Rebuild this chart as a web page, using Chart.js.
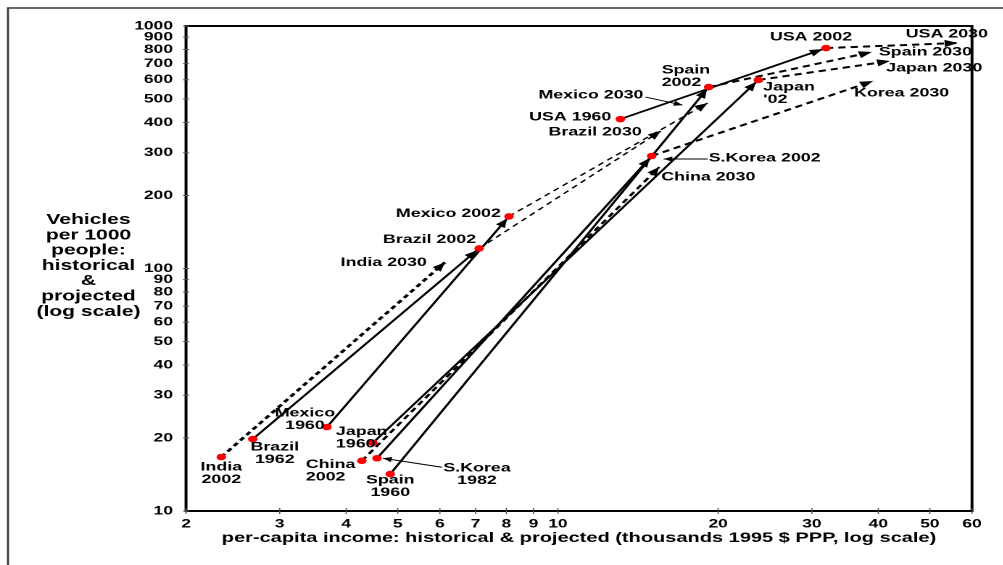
<!DOCTYPE html>
<html>
<head>
<meta charset="utf-8">
<script src="https://cdn.jsdelivr.net/npm/chart.js@4.4.0/dist/chart.umd.min.js"></script>
<style>
  html, body { margin: 0; padding: 0; background: #fff; overflow: hidden; }
  #container { position: relative; width: 1003px; height: 565px; }
  #chartcanvas { position: absolute; left: 0; top: 0; transform-origin: 0 0; }
</style>
</head>
<body>
<div id="container"></div>
<script>
// chart is laid out narrow and then stretched sideways
var STRETCH = 1.45;
var W = Math.ceil(1003 / STRETCH), H = 565;
var FONT = '"Liberation Sans", Arial, Helvetica, sans-serif';

var incomeTicks = [2, 3, 4, 5, 6, 7, 8, 9, 10, 20, 30, 40, 50, 60];
var vehicleTicks = [10, 20, 30, 40, 50, 60, 70, 80, 90, 100, 200, 300, 400, 500, 600, 700, 800, 900, 1000];

// observed country-years: income (thousands 1995 $ PPP), vehicles per 1000 people
var dotNames = ['India 2002', 'Brazil 1962', 'Mexico 1960', 'Japan 1960', 'China 2002',
  'S.Korea 1982', 'Spain 1960', 'Brazil 2002', 'Mexico 2002', 'USA 1960',
  'S.Korea 2002', 'Spain 2002', "Japan '02", 'USA 2002'];
var dotIncome = [2.33, 2.67, 3.68, 4.49, 4.28, 4.57, 4.84, 7.11, 8.09, 13.1, 15.0, 19.2, 23.8, 31.9];
var dotVehicles = [16.7, 19.8, 22.2, 19.1, 16.1, 16.5, 14.2, 121, 164, 413, 291, 560, 599, 811];

// historical paths
var histFrom = ['Brazil 1962', 'Mexico 1960', 'Japan 1960', 'Spain 1960', 'S.Korea 1982', 'USA 1960'];
var histTo = ['Brazil 2002', 'Mexico 2002', "Japan '02", 'Spain 2002', 'S.Korea 2002', 'USA 2002'];

// projections to 2030
var projFrom = ['India 2002', 'China 2002', 'Brazil 2002', 'Mexico 2002', 'S.Korea 2002', "Japan '02", 'Spain 2002', 'USA 2002'];
var projNames = ['India 2030', 'China 2030', 'Brazil 2030', 'Mexico 2030', 'Korea 2030', 'Japan 2030', 'Spain 2030', 'USA 2030'];
var projIncome = [6.13, 15.5, 15.6, 19.1, 39.1, 42.1, 38.9, 56.4];
var projVehicles = [106, 262, 369, 481, 593, 717, 781, 851];

var yTitle = ['Vehicles', 'per 1000', 'people:', 'historical', '&', 'projected', '(log scale)'];
var xTitle = 'per-capita income: historical & projected (thousands 1995 $ PPP, log scale)';

// lookup of every named position
var where = {};
dotNames.forEach(function (n, i) { where[n] = { x: dotIncome[i], y: dotVehicles[i] }; });
projNames.forEach(function (n, i) { where[n] = { x: projIncome[i], y: projVehicles[i] }; });

// dash styles for projection lines
var projStyle = {
  'India 2030': { w: 2.4, dash: [4, 3] },
  'Brazil 2030': { w: 1.3, dash: [4.5, 3.5] },
  'Mexico 2030': { w: 1.3, dash: [4.5, 3.5] }
};

// label placement (offsets in screen px from the named point)
var labelSpecs = [
  { at: 'India 2002', lines: ['India', '2002'], dx: 0, dy: 10, align: 'center' },
  { at: 'Brazil 1962', lines: ['Brazil', '1962'], dx: 22, dy: 8, align: 'center' },
  { at: 'Mexico 1960', lines: ['Mexico', '1960'], dx: -22, dy: -14, align: 'center' },
  { at: 'Japan 1960', lines: ['Japan', '1960'], dx: -37, dy: -11, align: 'left' },
  { at: 'China 2002', lines: ['China', '2002'], dx: -56, dy: 4, align: 'left' },
  { at: 'S.Korea 1982', lines: ['S.Korea', '1982'], dx: 100, dy: 10, align: 'center' },
  { at: 'Spain 1960', lines: ['Spain', '1960'], dx: 0, dy: 6, align: 'center' },
  { at: 'Brazil 2002', lines: ['Brazil 2002'], dx: -3, dy: -9, align: 'right' },
  { at: 'Mexico 2002', lines: ['Mexico 2002'], dx: -8, dy: -3, align: 'right' },
  { at: 'India 2030', lines: ['India 2030'], dx: -18, dy: 0, align: 'right' },
  { at: 'Mexico 2030', lines: ['Mexico 2030'], dx: -64, dy: -8, align: 'right' },
  { at: 'USA 1960', lines: ['USA 1960'], dx: -9, dy: -2, align: 'right' },
  { at: 'Brazil 2030', lines: ['Brazil 2030'], dx: -19, dy: 1, align: 'right' },
  { at: 'Spain 2002', lines: ['Spain', '2002'], dx: -47, dy: -17, align: 'left' },
  { at: "Japan '02", lines: ['Japan', "'02"], dx: 5, dy: 7, align: 'left' },
  { at: 'USA 2002', lines: ['USA 2002'], dx: -15, dy: -11, align: 'center' },
  { at: 'USA 2030', lines: ['USA 2030'], dx: -52, dy: -9, align: 'left' },
  { at: 'Spain 2030', lines: ['Spain 2030'], dx: 7, dy: 0, align: 'left' },
  { at: 'Japan 2030', lines: ['Japan 2030'], dx: -4, dy: 7, align: 'left' },
  { at: 'Korea 2030', lines: ['Korea 2030'], dx: -19, dy: 12, align: 'left' },
  { at: 'S.Korea 2002', lines: ['S.Korea 2002'], dx: 57, dy: 2, align: 'left' },
  { at: 'China 2030', lines: ['China 2030'], dx: 2, dy: 10, align: 'left' }
];

// pointer lines from a label to its point
var leaderSpecs = [
  { at: 'Mexico 2030', x0: -62, y0: -6, x1: -25, y1: 2 },
  { at: 'S.Korea 2002', x0: 56, y0: 3, x1: 12, y1: 3 },
  { at: 'S.Korea 1982', x0: 65, y0: 9, x1: 6, y1: 0 }
];

function arrowHead(c, x0, y0, x1, y1, len, half, back) {
  var a = Math.atan2(y1 - y0, x1 - x0);
  var ca = Math.cos(a), sa = Math.sin(a);
  var tx = x1 - back * ca, ty = y1 - back * sa;
  c.beginPath();
  c.moveTo(tx, ty);
  c.lineTo(tx - len * ca + half * sa, ty - len * sa - half * ca);
  c.lineTo(tx - len * ca - half * sa, ty - len * sa + half * ca);
  c.closePath();
  c.fill();
}

var datasets = [];
datasets.push({
  data: dotNames.map(function (n, i) { return { x: dotIncome[i], y: dotVehicles[i] }; }),
  pointRadius: 3.3,
  pointBackgroundColor: '#ff0000',
  pointBorderWidth: 0,
  showLine: false
});
histFrom.forEach(function (f, i) {
  datasets.push({
    data: [where[f], where[histTo[i]]],
    showLine: true,
    borderColor: '#000',
    borderWidth: 1.7,
    pointRadius: 0,
    arrow: true,
    arrowBack: 2.5
  });
});
projFrom.forEach(function (f, i) {
  var st = projStyle[projNames[i]] || { w: 2, dash: [5, 3.5] };
  datasets.push({
    data: [where[f], where[projNames[i]]],
    showLine: true,
    borderColor: '#000',
    borderWidth: st.w,
    borderDash: st.dash,
    pointRadius: 0,
    arrow: true,
    arrowBack: 0
  });
});

var decor = {
  id: 'decor',
  beforeDraw: function (chart) {
    var c = chart.ctx;
    c.save();
    c.fillStyle = '#fff';
    c.fillRect(0, 0, chart.width, chart.height);
    c.strokeStyle = '#3a3a3a';
    c.lineWidth = 1.4;
    c.beginPath();
    c.moveTo(5.5, chart.height + 5);
    c.lineTo(5.5, 8);
    c.lineTo(chart.width + 5, 8);
    c.stroke();
    c.restore();
  },
  afterDatasetDraw: function (chart, args) {
    var ds = chart.data.datasets[args.index];
    if (!ds.arrow) return;
    var pts = args.meta.data;
    var a = pts[0], b = pts[pts.length - 1];
    chart.ctx.save();
    chart.ctx.fillStyle = '#000';
    arrowHead(chart.ctx, a.x, a.y, b.x, b.y, 9, 3.6, ds.arrowBack);
    chart.ctx.restore();
  },
  afterDraw: function (chart) {
    var c = chart.ctx, area = chart.chartArea;
    var xs = chart.scales.x, ys = chart.scales.y;
    function px(name) {
      return { x: xs.getPixelForValue(where[name].x), y: ys.getPixelForValue(where[name].y) };
    }
    c.save();
    // plot box
    c.strokeStyle = '#000';
    c.lineWidth = 2;
    c.strokeRect(area.left, area.top, area.right - area.left, area.bottom - area.top);
    // tick marks across the axes
    c.strokeStyle = '#555';
    c.lineWidth = 0.8;
    c.beginPath();
    incomeTicks.forEach(function (v) {
      var x = xs.getPixelForValue(v);
      c.moveTo(x, area.bottom - 3); c.lineTo(x, area.bottom + 3);
    });
    c.stroke();
    c.lineWidth = 1;
    c.beginPath();
    vehicleTicks.forEach(function (v) {
      var y = ys.getPixelForValue(v);
      c.moveTo(area.left - 2.1, y); c.lineTo(area.left + 2.1, y);
    });
    c.stroke();

    // leaders
    c.strokeStyle = '#000';
    c.fillStyle = '#000';
    c.lineWidth = 1;
    leaderSpecs.forEach(function (s) {
      var p = px(s.at);
      var x0 = p.x + s.x0 / STRETCH, y0 = p.y + s.y0;
      var x1 = p.x + s.x1 / STRETCH, y1 = p.y + s.y1;
      c.beginPath(); c.moveTo(x0, y0); c.lineTo(x1, y1); c.stroke();
      arrowHead(c, x0, y0, x1, y1, 6, 2.6, 0);
    });

    // point labels
    c.font = 'bold 12.3px ' + FONT;
    c.textBaseline = 'middle';
    labelSpecs.forEach(function (s) {
      var p = px(s.at);
      c.textAlign = s.align;
      s.lines.forEach(function (t, k) {
        c.fillText(t, p.x + s.dx / STRETCH, p.y + s.dy + k * 12.5);
      });
    });

    // vertical axis title, set horizontally beside the axis
    c.font = 'bold 14.5px ' + FONT;
    c.textAlign = 'center';
    yTitle.forEach(function (t, k) {
      c.fillText(t, 88.5 / STRETCH, 220 + k * 15.3);
    });
    c.restore();
  }
};

var chartCanvas = document.createElement('canvas');
chartCanvas.id = 'chartcanvas';
chartCanvas.width = W;
chartCanvas.height = H;
chartCanvas.style.width = W + 'px';
chartCanvas.style.height = H + 'px';
chartCanvas.style.transform = 'scaleX(' + STRETCH + ')';
document.getElementById('container').appendChild(chartCanvas);

var tickFont = { family: FONT, size: 12, weight: 'bold' };

var myChart = new Chart(chartCanvas, {
  type: 'scatter',
  data: { datasets: datasets },
  options: {
    responsive: false,
    animation: false,
    devicePixelRatio: 2,
    events: [],
    layout: { padding: { left: 0, right: W - 972 / STRETCH, top: 26, bottom: 0 } },
    plugins: { legend: { display: false }, tooltip: { enabled: false } },
    scales: {
      x: {
        type: 'logarithmic',
        min: 2,
        max: 60,
        grid: { display: false, drawTicks: false },
        border: { display: false },
        afterBuildTicks: function (s) { s.ticks = incomeTicks.map(function (v) { return { value: v }; }); },
        afterFit: function (s) { s.height = 54; },
        ticks: {
          autoSkip: false,
          maxRotation: 0,
          padding: 6,
          color: '#000',
          font: tickFont,
          callback: function (v) { return String(v); }
        },
        title: {
          display: true,
          text: xTitle,
          color: '#000',
          font: { family: FONT, size: 13.8, weight: 'bold' },
          padding: { top: 0, bottom: 18.7 }
        }
      },
      y: {
        type: 'logarithmic',
        min: 10,
        max: 1000,
        grid: { display: false, drawTicks: false },
        border: { display: false },
        afterBuildTicks: function (s) { s.ticks = vehicleTicks.map(function (v) { return { value: v }; }); },
        afterFit: function (s) { s.width = 186 / STRETCH; },
        ticks: {
          autoSkip: false,
          padding: 9,
          color: '#000',
          font: tickFont,
          callback: function (v) { return String(v); }
        }
      }
    }
  },
  plugins: [decor]
});
</script>
</body>
</html>
